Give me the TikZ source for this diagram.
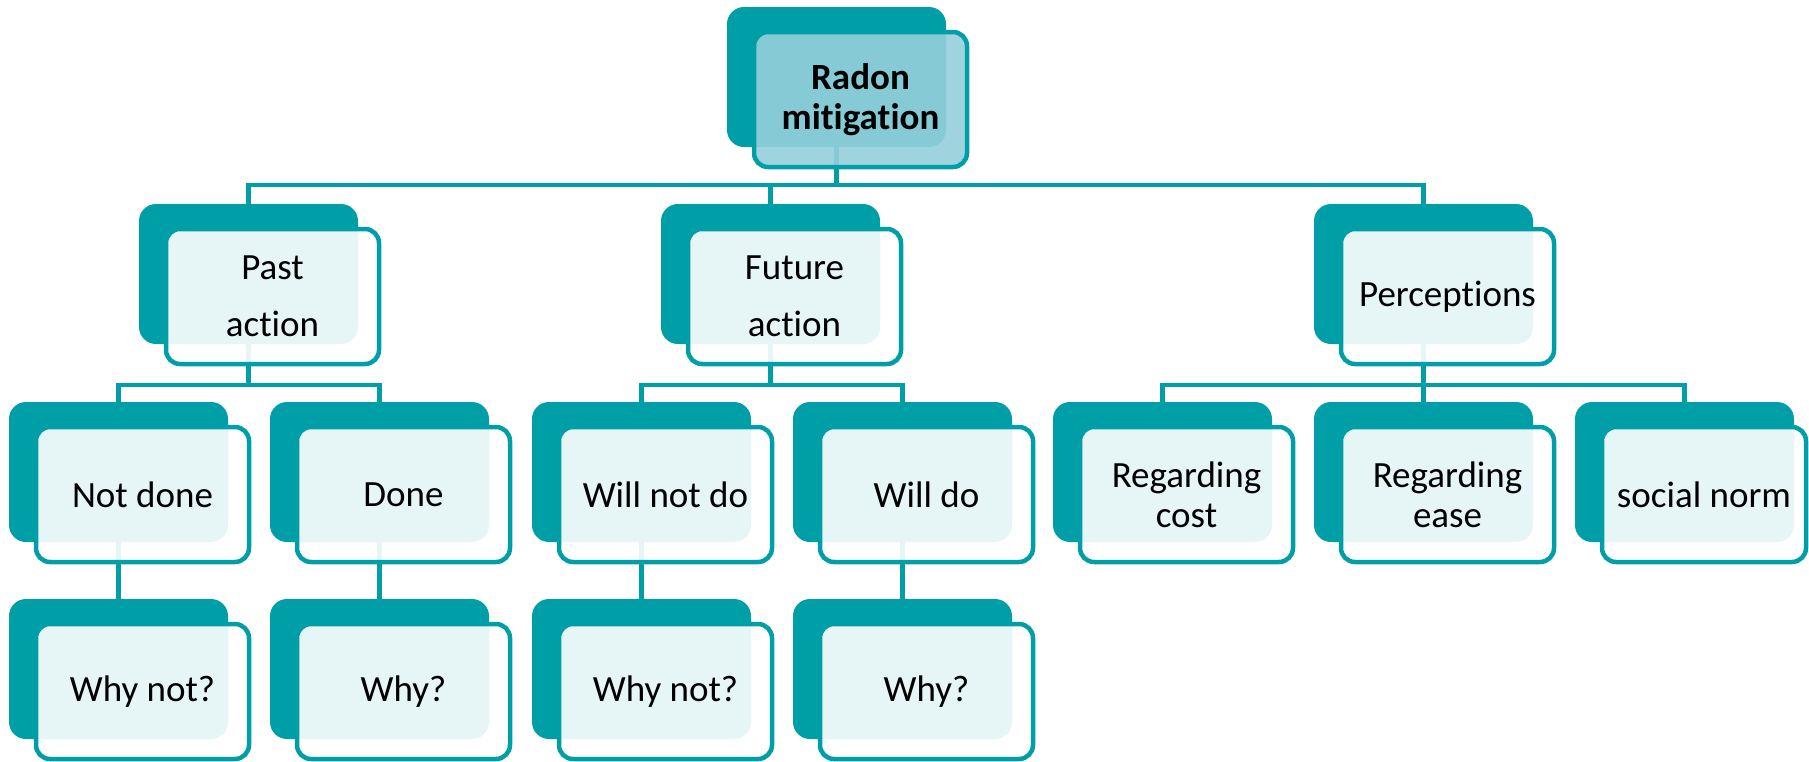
\documentclass[tikz,border=0pt]{standalone}
\usepackage{fontspec}
\setmainfont{Carlito}[Ligatures=NoCommon]
\usetikzlibrary{calc}
\pgfdeclarelayer{bg}
\pgfsetlayers{bg,main}
\definecolor{teal1}{RGB}{0,159,167}
\definecolor{rootfill}{RGB}{149,207,220}
\tikzset{
  backbox/.style={fill=teal1, rounded corners=17pt, minimum width=219pt, minimum height=140pt, inner sep=0pt, outer sep=0pt, anchor=north west},
  frontbox/.style={draw=teal1, line width=4.5pt, fill=white, fill opacity=0.9, rounded corners=14pt, minimum height=135pt, inner sep=0pt, outer sep=0pt, anchor=north west},
  rootfront/.style={frontbox, fill=rootfill},
  lbl/.style={text=black, align=center, font=\fontsize{37}{40}\selectfont, inner sep=0pt},
  lblwide/.style={lbl, font=\fontsize{37}{57}\selectfont},
  lblbold/.style={lbl, font=\fontsize{37}{40}\selectfont\bfseries},
  conn/.style={draw=teal1, line width=4.5pt},
}
\newcommand\mkbox[7][213]{%
  \node[backbox] (#2B) at (#3,#4) {};
  \node[#5, minimum width=#1pt] (#2F) at ($(#2B.north west)+(27,25)$) {};
  \node[#6] (#2) at (#2F.center) {#7};
}
\begin{document}
\begin{tikzpicture}[x=1pt, y=-1pt]
\useasboundingbox (0,0) rectangle (1809,761);
% level 0
\mkbox{root}{727}{7}{rootfront}{lblbold}{Radon\\mitigation}
% level 1
\mkbox{past}{139}{204}{frontbox}{lblwide}{Past\\action}
\mkbox{fut}{661}{204}{frontbox}{lblwide}{Future\\action}
\mkbox{perc}{1314}{204}{frontbox}{lbl}{Perceptions}
% level 2
\mkbox{nd}{9}{402}{frontbox}{lbl}{Not done}
\mkbox{dn}{270}{402}{frontbox}{lbl}{Done}
\mkbox{wnd}{532}{402}{frontbox}{lbl}{Will not do}
\mkbox{wd}{793}{402}{frontbox}{lbl}{Will do}
\mkbox{cost}{1053}{402}{frontbox}{lbl}{Regarding\\cost}
\mkbox{ease}{1314}{402}{frontbox}{lbl}{Regarding\\ease}
\mkbox[204]{soc}{1575}{402}{frontbox}{lbl}{social norm}
% level 3
\mkbox{wna}{9}{599}{frontbox}{lbl}{Why not?}
\mkbox{wya}{270}{599}{frontbox}{lbl}{Why?}
\mkbox{wnb}{532}{599}{frontbox}{lbl}{Why not?}
\mkbox{wyb}{793}{599}{frontbox}{lbl}{Why?}
% connectors
\begin{pgfonlayer}{bg}
\coordinate (bus0) at (0,185);
\coordinate (bus1) at (0,385);
\draw[conn] (rootB.center) -- (rootB.center |- bus0) -| (pastB.center);
\draw[conn] (rootB.center |- bus0) -| (futB.center);
\draw[conn] (rootB.center |- bus0) -| (percB.center);
\draw[conn] (pastB.center) -- (pastB.center |- bus1) -| (ndB.center);
\draw[conn] (pastB.center |- bus1) -| (dnB.center);
\draw[conn] (futB.center) -- (futB.center |- bus1) -| (wndB.center);
\draw[conn] (futB.center |- bus1) -| (wdB.center);
\draw[conn] (percB.center) -- (percB.center |- bus1) -| (costB.center);
\draw[conn] (percB.center |- bus1) -| (easeB.center);
\draw[conn] (percB.center |- bus1) -| (socB.center);
\draw[conn] (ndB.center) -- (wnaB.center);
\draw[conn] (dnB.center) -- (wyaB.center);
\draw[conn] (wndB.center) -- (wnbB.center);
\draw[conn] (wdB.center) -- (wybB.center);
\end{pgfonlayer}
\end{tikzpicture}
\end{document}
